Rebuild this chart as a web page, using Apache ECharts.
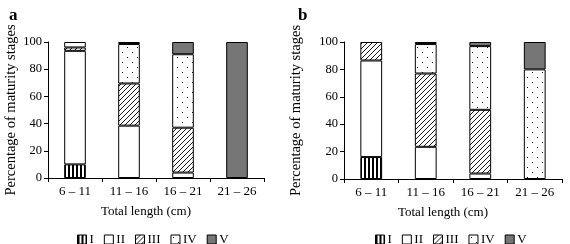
<!DOCTYPE html>
<html>
<head>
<meta charset="utf-8">
<script src="https://cdn.jsdelivr.net/npm/echarts@6/dist/echarts.min.js"></script>
<style>
  html, body { margin: 0; padding: 0; background: #fff; }
  #chart { width: 570px; height: 244px; }
</style>
</head>
<body>
<div id="chart"></div>
<script>
var categories = ["6 \u2013 11", "11 \u2013 16", "16 \u2013 21", "21 \u2013 26"];
var stages = ["I", "II", "III", "IV", "V"];
var yTicks = [0, 20, 40, 60, 80, 100];

// panel a
var aI = [10, 0, 0, 0];
var aII = [83.5, 38.5, 4, 0];
var aIII = [2.5, 31, 33, 0];
var aIV = [4, 29, 54, 0];
var aV = [0, 1.5, 9, 100];

// panel b
var bI = [16, 0, 0, 0];
var bII = [70.5, 23.5, 4, 0];
var bIII = [13.5, 53.5, 46.5, 0];
var bIV = [0, 21.5, 46.5, 80];
var bV = [0, 1.5, 3, 20];

function makeCanvas(w, h, paint) {
  var c = document.createElement("canvas");
  c.width = w;
  c.height = h;
  var ctx = c.getContext("2d");
  ctx.fillStyle = "#fff";
  ctx.fillRect(0, 0, w, h);
  paint(ctx);
  return c;
}

var stripes = makeCanvas(4, 4, function(ctx) {
  ctx.fillStyle = "#000";
  ctx.fillRect(0, 0, 2, 4);
});
var hatch = makeCanvas(5, 5, function(ctx) {
  ctx.strokeStyle = "#000";
  ctx.lineWidth = 0.9;
  ctx.beginPath();
  ctx.moveTo(-1, 6);
  ctx.lineTo(6, -1);
  ctx.moveTo(-1, 1);
  ctx.lineTo(1, -1);
  ctx.moveTo(4, 6);
  ctx.lineTo(6, 4);
  ctx.stroke();
});
var dots = makeCanvas(10, 10, function(ctx) {
  ctx.fillStyle = "#000";
  ctx.fillRect(2, 2, 1, 1);
  ctx.fillRect(7, 7, 1, 1);
});

var fills = [
  { image: stripes, repeat: "repeat" },
  "#ffffff",
  { image: hatch, repeat: "repeat" },
  { image: dots, repeat: "repeat" },
  "#767676"
];

var font = "Liberation Serif";

function xAxisFor(idx) {
  return {
    type: "category",
    gridIndex: idx,
    data: categories,
    name: "Total length (cm)",
    nameLocation: "middle",
    nameGap: 27,
    nameTextStyle: { color: "#000", fontFamily: font, fontSize: 13, padding: [0, 20, 0, 0] },
    axisLine: { lineStyle: { color: "#000", width: 1 } },
    axisTick: { show: true, length: 4, lineStyle: { color: "#000" } },
    axisLabel: { color: "#000", fontFamily: font, fontSize: 13, margin: 7 },
    splitLine: { show: false }
  };
}

function yAxisFor(idx, gap) {
  return {
    type: "value",
    gridIndex: idx,
    min: yTicks[0],
    max: yTicks[yTicks.length - 1],
    interval: 20,
    name: "Percentage of maturity stages",
    nameLocation: "middle",
    nameGap: gap,
    nameTextStyle: { color: "#000", fontFamily: font, fontSize: 14.5 },
    axisLine: { show: true, lineStyle: { color: "#000", width: 1 } },
    axisTick: { show: true, length: 4, lineStyle: { color: "#000" } },
    axisLabel: { color: "#000", fontFamily: font, fontSize: 12.5, margin: 6 },
    splitLine: { show: false }
  };
}

var seriesA = [aI, aII, aIII, aIV, aV];
var seriesB = [bI, bII, bIII, bIV, bV];
var series = [];
[seriesA, seriesB].forEach(function(set, g) {
  set.forEach(function(vals, i) {
    series.push({
      name: stages[i],
      type: "bar",
      stack: "p" + g,
      xAxisIndex: g,
      yAxisIndex: g,
      barWidth: "40%",
      // empty segments are skipped so no border line is drawn
      data: vals.map(function(v) { return v === 0 ? "-" : v; }),
      itemStyle: { color: fills[i], borderColor: "#000", borderWidth: 1 },
      emphasis: { disabled: true }
    });
  });
});

function legendFor(left) {
  return {
    data: stages,
    left: left,
    top: 228,
    itemWidth: 9,
    itemHeight: 9,
    itemGap: 10,
    icon: "rect",
    selectedMode: false,
    textStyle: { color: "#000", fontFamily: font, fontSize: 13, padding: [0, 0, 0, -2] },
    itemStyle: { borderColor: "#000", borderWidth: 1 }
  };
}

var chart = echarts.init(document.getElementById("chart"));
chart.setOption({
  animation: false,
  title: [
    { text: "a", left: 4, top: 2, textStyle: { fontFamily: font, fontWeight: "bold", fontSize: 17, color: "#000" } },
    { text: "b", left: 293, top: 2, textStyle: { fontFamily: font, fontWeight: "bold", fontSize: 17, color: "#000" } }
  ],
  legend: [legendFor(72), legendFor(370)],
  grid: [
    { left: 48, right: 306, top: 42, bottom: 66 },
    { left: 344, right: 8, top: 42, bottom: 65 }
  ],
  xAxis: [xAxisFor(0), xAxisFor(1)],
  yAxis: [yAxisFor(0, 29), yAxisFor(1, 40)],
  series: series
});
</script>
</body>
</html>
